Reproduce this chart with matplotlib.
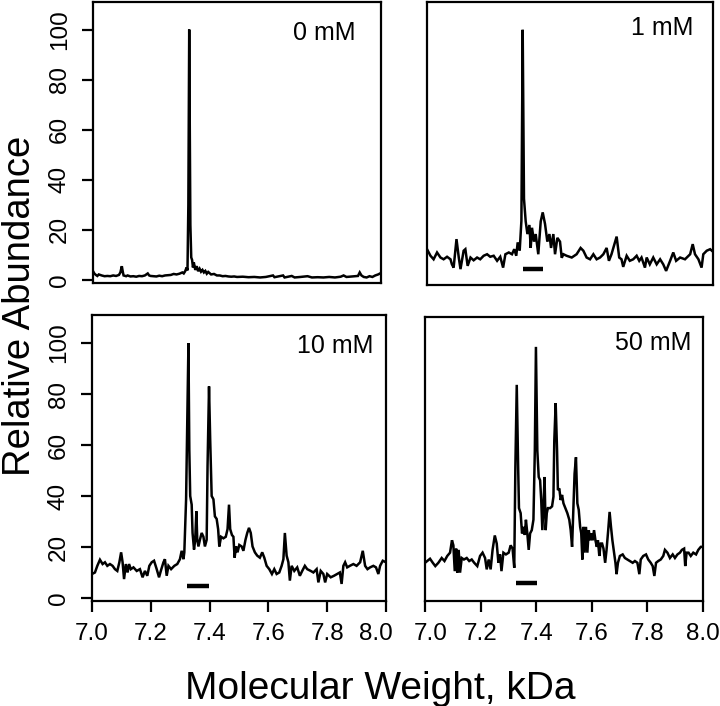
import matplotlib
matplotlib.use('Agg')
import matplotlib.pyplot as plt
import matplotlib.transforms as mtransforms

plt.rcParams['font.family'] = ['Liberation Sans', 'DejaVu Sans']

panel_labels = ['0 mM', '1 mM', '10 mM', '50 mM']
x_ticks = [7.0, 7.2, 7.4, 7.6, 7.8, 8.0]
y_ticks = [0, 20, 40, 60, 80, 100]

# 0 mM
mw_0 = [7.000, 7.005, 7.010, 7.015, 7.020, 7.030, 7.040, 7.050, 7.060, 7.070,
        7.080, 7.090, 7.095, 7.100, 7.103, 7.106, 7.115, 7.120, 7.130, 7.140,
        7.150, 7.160, 7.170, 7.180, 7.190, 7.195, 7.200, 7.210, 7.220, 7.230,
        7.240, 7.250, 7.260, 7.270, 7.280, 7.290, 7.300, 7.310, 7.315, 7.320,
        7.325, 7.328, 7.331, 7.334, 7.336, 7.338, 7.341, 7.344, 7.347, 7.350,
        7.355, 7.360, 7.365, 7.370, 7.375, 7.380, 7.385, 7.390, 7.395, 7.400,
        7.410, 7.420, 7.430, 7.440, 7.450, 7.460, 7.470, 7.480, 7.490, 7.500,
        7.520, 7.540, 7.560, 7.580, 7.600, 7.625, 7.630, 7.660, 7.665, 7.690,
        7.700, 7.720, 7.745, 7.760, 7.780, 7.800, 7.820, 7.840, 7.860, 7.870,
        7.880, 7.900, 7.920, 7.926, 7.932, 7.940, 7.950, 7.960, 7.970, 7.980,
        7.990, 8.000]
ab_0 = [3.5, 2.5, 2.0, 1.6, 2.2, 1.8, 1.5, 1.6, 1.5, 1.8,
        1.6, 2.0, 3.0, 5.5, 3.5, 1.8, 1.5, 1.8, 1.4, 1.5,
        1.3, 1.6, 1.5, 1.8, 2.6, 1.8, 1.6, 1.5, 1.4, 1.7,
        1.5, 1.8, 1.9, 2.0, 2.4, 2.2, 2.5, 3.0, 2.6, 3.5,
        5.0, 3.8, 30, 100, 60, 22, 9, 8, 5, 7,
        4, 5.5, 3.5, 4.5, 3.3, 4.0, 3.0, 3.6, 2.5, 3.2,
        2.2, 2.4, 1.8, 1.8, 1.5, 1.6, 1.4, 1.3, 1.4, 1.2,
        1.3, 1.1, 1.2, 1.0, 1.2, 1.8, 1.1, 1.8, 1.0, 1.6,
        1.0, 1.2, 1.5, 1.0, 1.1, 1.0, 1.2, 1.0, 1.3, 1.8,
        1.2, 1.4, 1.6, 3.0, 1.8, 1.2, 1.0, 1.5, 1.2, 1.8,
        2.2, 2.8]

# 1 mM
mw_1 = [7.000, 7.012, 7.023, 7.035, 7.047, 7.058, 7.070, 7.082, 7.087, 7.093,
        7.103, 7.111, 7.117, 7.128, 7.134, 7.142, 7.152, 7.163, 7.175, 7.186,
        7.198, 7.210, 7.221, 7.233, 7.245, 7.256, 7.266, 7.274, 7.286, 7.297,
        7.305, 7.312, 7.317, 7.324, 7.330, 7.3345, 7.339, 7.345, 7.351, 7.358,
        7.3625, 7.367, 7.374, 7.380, 7.389, 7.3975, 7.4045, 7.4126, 7.4207, 7.428,
        7.4336, 7.4417, 7.4476, 7.4557, 7.465, 7.471, 7.477, 7.488, 7.506, 7.523,
        7.537, 7.5466, 7.558, 7.570, 7.5816, 7.593, 7.605, 7.6165, 7.628, 7.636,
        7.645, 7.663, 7.672, 7.680, 7.686, 7.698, 7.709, 7.721, 7.733, 7.742,
        7.750, 7.762, 7.768, 7.779, 7.791, 7.803, 7.815, 7.826, 7.836, 7.850,
        7.861, 7.871, 7.885, 7.902, 7.920, 7.929, 7.937, 7.949, 7.960, 7.966,
        7.978, 7.990, 8.000]
ab_1 = [13.0, 10.4, 9.0, 11.7, 9.7, 9.0, 10.0, 9.0, 7.0, 5.7,
        17.0, 9.7, 5.1, 12.4, 13.0, 6.4, 9.7, 8.6, 9.7, 9.0,
        10.4, 11.0, 10.0, 10.4, 8.4, 10.0, 5.7, 11.0, 11.7, 11.0,
        13.0, 10.4, 15.7, 12.4, 24.3, 100, 33, 24, 19, 22.6,
        13.5, 21.5, 16, 19, 11, 24, 27.6, 23, 16, 19,
        13.5, 19, 11, 17.5, 16, 9.6, 11, 10.4, 9.7, 11,
        13.5, 12.4, 9.7, 9.0, 11, 9.0, 9.7, 11, 13.5, 8.4,
        11, 18, 9.7, 9.0, 6.0, 10.4, 8.4, 9.0, 10.4, 8.4,
        9.7, 5.7, 9.7, 7.0, 9.7, 7.0, 9.0, 7.0, 4.4, 8.4,
        11.7, 8.4, 9.7, 9.0, 11, 15, 11, 9.0, 5.7, 11,
        12.4, 13, 12]

# 10 mM
mw_10 = [7.000, 7.010, 7.018, 7.027, 7.036, 7.044, 7.052, 7.061, 7.070, 7.078,
         7.086, 7.093, 7.099, 7.104, 7.109, 7.115, 7.121, 7.126, 7.132, 7.141,
         7.152, 7.163, 7.172, 7.180, 7.188, 7.195, 7.203, 7.211, 7.220, 7.228,
         7.234, 7.243, 7.248, 7.254, 7.260, 7.269, 7.280, 7.290, 7.299, 7.305,
         7.311, 7.314, 7.320, 7.328, 7.331, 7.334, 7.339, 7.342, 7.347, 7.351,
         7.355, 7.358, 7.362, 7.367, 7.373, 7.379, 7.384, 7.390, 7.393, 7.398,
         7.402, 7.407, 7.413, 7.418, 7.424, 7.429, 7.433, 7.439, 7.447, 7.455,
         7.461, 7.466, 7.470, 7.476, 7.481, 7.485, 7.490, 7.495, 7.501, 7.509,
         7.515, 7.522, 7.528, 7.534, 7.540, 7.546, 7.554, 7.562, 7.571, 7.579,
         7.586, 7.594, 7.603, 7.612, 7.620, 7.628, 7.637, 7.645, 7.651, 7.656,
         7.662, 7.668, 7.673, 7.679, 7.688, 7.698, 7.707, 7.715, 7.724, 7.732,
         7.744, 7.753, 7.764, 7.770, 7.778, 7.787, 7.793, 7.800, 7.812, 7.823,
         7.834, 7.843, 7.849, 7.855, 7.861, 7.868, 7.877, 7.889, 7.900, 7.912,
         7.921, 7.929, 7.937, 7.946, 7.957, 7.966, 7.974, 7.980, 7.989, 8.000]
ab_10 = [9.4, 10, 12.6, 15, 13.3, 14, 12.6, 13.3, 12.6, 11.3,
         10.6, 14, 17.9, 14, 7.4, 13.3, 10, 13.3, 11.3, 12,
         10.6, 11.3, 8.1, 10.6, 8.7, 12.6, 14, 14.6, 11.3, 8.1,
         10.6, 14, 15.2, 8.7, 12.6, 11.3, 12.6, 13.3, 15.2, 18.5,
         15.2, 17.9, 38.7, 100, 58, 40, 36.6, 25.5, 19, 22.8,
         34, 22.8, 20.2, 22.8, 25.5, 24, 20.2, 22.8, 51.7, 83,
         62, 40, 38.7, 32, 31, 27, 20.2, 24, 23.4, 24,
         27, 36.6, 27, 24.7, 24, 15.8, 20.2, 17.9, 20.8, 20.2,
         18.5, 22.8, 25.5, 27.5, 25.5, 20.2, 17.9, 16.6, 15.8, 17.9,
         15.8, 12.6, 11.3, 9.4, 11.3, 9.4, 10, 12.6, 15.2, 25.5,
         16.6, 14, 6.8, 12.6, 10.6, 12, 8.7, 10.6, 12.6, 11.3,
         10.6, 10, 11.3, 6.1, 10.6, 9.4, 6.1, 9.4, 8.1, 8.7,
         9.4, 10, 5.5, 12.6, 14, 12, 12.6, 13.3, 12.6, 14,
         18.5, 12.6, 11.3, 12, 12.6, 12, 9.4, 12.6, 14.6, 14]

# 50 mM
mw_50 = [7.000, 7.008, 7.018, 7.028, 7.037, 7.048, 7.060, 7.070, 7.080, 7.090,
         7.097, 7.102, 7.107, 7.112, 7.116, 7.121, 7.126, 7.132, 7.140, 7.150,
         7.159, 7.168, 7.177, 7.188, 7.198, 7.207, 7.216, 7.222, 7.229, 7.236,
         7.243, 7.251, 7.258, 7.264, 7.270, 7.275, 7.282, 7.291, 7.301, 7.308,
         7.315, 7.321, 7.325, 7.330, 7.335, 7.338, 7.344, 7.349, 7.354, 7.359,
         7.363, 7.368, 7.373, 7.378, 7.384, 7.390, 7.395, 7.399, 7.404, 7.409,
         7.414, 7.418, 7.422, 7.427, 7.430, 7.434, 7.438, 7.442, 7.450, 7.457,
         7.462, 7.465, 7.470, 7.475, 7.478, 7.483, 7.488, 7.493, 7.498, 7.505,
         7.512, 7.519, 7.524, 7.529, 7.534, 7.538, 7.543, 7.548, 7.553, 7.558,
         7.562, 7.566, 7.570, 7.574, 7.579, 7.584, 7.589, 7.594, 7.598, 7.603,
         7.608, 7.613, 7.618, 7.622, 7.627, 7.632, 7.637, 7.642, 7.648, 7.653,
         7.659, 7.664, 7.669, 7.674, 7.680, 7.685, 7.689, 7.694, 7.701, 7.711,
         7.719, 7.728, 7.737, 7.747, 7.755, 7.764, 7.771, 7.776, 7.785, 7.795,
         7.803, 7.812, 7.819, 7.825, 7.831, 7.839, 7.848, 7.857, 7.863, 7.872,
         7.881, 7.891, 7.899, 7.908, 7.917, 7.924, 7.932, 7.936, 7.941, 7.948,
         7.956, 7.965, 7.975, 7.983, 7.992, 7.999]
ab_50 = [13.9, 14.6, 15.5, 13.9, 12.6, 13.9, 15.8, 14.6, 16.6, 17.9,
         22.8, 20.8, 10.6, 19.5, 10, 19, 10, 15.8, 15.2, 15.8,
         14.6, 15.2, 13.9, 12.6, 16.6, 17.9, 15.8, 11.3, 15.2, 11.3,
         19, 24.7, 21.5, 13.9, 17.2, 10.6, 17.9, 17.2, 17.9, 20.8,
         19.5, 11.9, 51.7, 84.2, 51.7, 35.5, 33.5, 25.5, 28.1, 24.9,
         30.9, 25.5, 19, 25.5, 26.8, 30.9, 58.2, 99.2, 58.2, 47.8,
         46.5, 38.7, 26.8, 38.7, 47.8, 26.8, 33.5, 35.5, 35.5, 36.2,
         40, 62, 77, 58.2, 42.6, 43.3, 38.7, 40.7, 37.4, 35.5,
         33.5, 30.9, 26.8, 20.2, 36.2, 49.1, 55.6, 37.4, 34.8, 28.1,
         25.5, 15.2, 28.1, 17.9, 28.1, 17.9, 26.8, 22.8, 25.5, 22.8,
         26.8, 22.8, 20.2, 22.8, 16.6, 21.5, 21.5, 19.5, 13.9, 19,
         26.8, 34, 28.1, 22.8, 17.9, 13.9, 9.4, 13.9, 16.6, 17.2,
         15.8, 15.2, 14.6, 13.9, 14.6, 13.9, 9.4, 15.2, 16.6, 17.2,
         15.2, 13.9, 12.6, 8.7, 13.9, 14.6, 15.2, 16.6, 19, 17.9,
         15.8, 17.2, 15.8, 17.2, 17.9, 19, 19.5, 12.6, 17.9, 17.9,
         16.6, 17.9, 17.2, 19, 20.2, 20.2]

# short horizontal bars under the peaks (mass range, height)
bar_1 = ([7.336, 7.406], [5.2, 5.2])
bar_10 = ([7.323, 7.398], [4.7, 4.7])
bar_50 = ([7.327, 7.403], [5.9, 5.9])

fig = plt.figure(figsize=(7.2, 7.06), dpi=100)

ax_pos = [[0.1292, 0.5992, 0.4000, 0.3980],
          [0.5931, 0.5963, 0.3972, 0.4008],
          [0.1278, 0.1487, 0.4083, 0.4051],
          [0.5903, 0.1487, 0.3861, 0.4023]]
label_pos = [(0.913, 0.89), (0.93, 0.908), (0.956, 0.89), (0.959, 0.908)]

series = [(mw_0, ab_0, None), (mw_1, ab_1, bar_1),
          (mw_10, ab_10, bar_10), (mw_50, ab_50, bar_50)]

for i, (mw, ab, bar) in enumerate(series):
    ax = fig.add_axes(ax_pos[i])
    ax.plot(mw, ab, color='black', lw=1.8, solid_joinstyle='miter')
    if bar is not None:
        ax.plot(bar[0], bar[1], color='black', lw=3.2, solid_capstyle='butt')
    ax.set_xlim(7.0, 8.0)
    ax.set_ylim(-1.2, 111)
    for sp in ax.spines.values():
        sp.set_linewidth(1.6)
    ax.tick_params(direction='out', length=8, width=1.6, pad=8, colors='black')
    ax.text(label_pos[i][0], label_pos[i][1], panel_labels[i],
            transform=ax.transAxes, ha='right', va='center', fontsize=18)

    if i in (0, 2):
        ax.set_yticks(y_ticks)
        ax.set_yticklabels([str(v) for v in y_ticks], fontsize=17.5,
                           rotation=90, va='center')
    else:
        ax.set_yticks([])
    if i in (2, 3):
        ax.set_xticks(x_ticks)
        labs = ax.set_xticklabels(['%.1f' % v for v in x_ticks], fontsize=17.5)
        # the outer labels next to the gap between panels sit a bit inward
        if i == 2:
            off = mtransforms.ScaledTranslation(-0.10, 0, fig.dpi_scale_trans)
            labs[-1].set_transform(labs[-1].get_transform() + off)
        else:
            off = mtransforms.ScaledTranslation(0.06, 0, fig.dpi_scale_trans)
            labs[0].set_transform(labs[0].get_transform() + off)
    else:
        ax.set_xticks([])

fig.text(0.028, 0.567, 'Relative Abundance', rotation=90, ha='center',
         va='center', fontsize=27.5)
fig.text(0.5285, 0.0099, 'Molecular Weight, kDa', ha='center',
         va='baseline', fontsize=28)

fig.savefig('out.png', dpi=100)
